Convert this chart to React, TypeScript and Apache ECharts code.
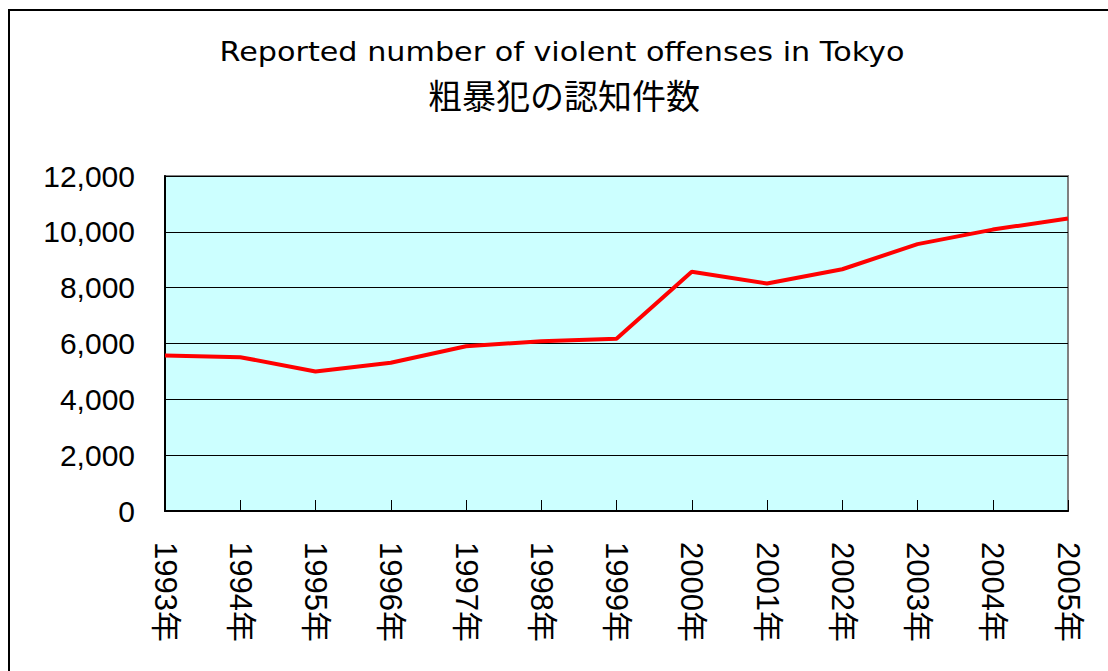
import React, { useEffect, useRef } from "react";
import * as echarts from "echarts";

const years = ["1993年", "1994年", "1995年", "1996年", "1997年", "1998年", "1999年", "2000年", "2001年", "2002年", "2003年", "2004年", "2005年"];
const offenses = [5570, 5510, 5000, 5310, 5900, 6080, 6170, 8570, 8150, 8660, 9560, 10080, 10480];
const titleEn = "Reported number of violent offenses in Tokyo";
const titleJa = "粗暴犯の認知件数";

const FONT = "'Liberation Sans', 'Noto Sans CJK JP', sans-serif";

export default function App() {
  const ref = useRef<HTMLDivElement>(null);
  useEffect(() => {
    if (!ref.current) return;
    const chart = echarts.init(ref.current, null, { renderer: "svg" });
    chart.setOption({
      animation: false,
      backgroundColor: "#ffffff",
      grid: {
        left: 165,
        top: 176,
        width: 903,
        height: 335,
        show: true,
        backgroundColor: "#ccffff",
        borderColor: "#808080",
        borderWidth: 2,
      },
      graphic: [
        {
          type: "rect",
          shape: { x: 9, y: 10, width: 1200, height: 800 },
          style: { fill: "none", stroke: "#000000", lineWidth: 2 },
          silent: true,
        },
        {
          type: "text",
          x: 562,
          y: 52,
          scaleX: 1.12,
          style: {
            text: titleEn,
            fill: "#000",
            font: "27px 'DejaVu Sans', sans-serif",
            textAlign: "center",
            textVerticalAlign: "middle",
          },
        },
        {
          type: "text",
          x: 564,
          y: 94,
          style: {
            text: titleJa,
            fill: "#000",
            font: "34px 'Noto Sans CJK JP', sans-serif",
            textAlign: "center",
            textVerticalAlign: "middle",
          },
        },
      ],
      xAxis: {
        type: "category",
        data: years,
        boundaryGap: false,
        axisLine: { show: true, lineStyle: { color: "#000", width: 2 } },
        axisTick: { show: true, inside: true, length: 11, alignWithLabel: true, lineStyle: { color: "#000" } },
        axisLabel: {
          rotate: -90,
          margin: 31,
          color: "#000",
          fontSize: 31,
          fontFamily: FONT,
          interval: 0,
        },
        splitLine: { show: false },
      },
      yAxis: {
        type: "value",
        min: 0,
        max: 12000,
        interval: 2000,
        axisLine: { show: true, lineStyle: { color: "#000", width: 2 } },
        axisTick: { show: true, inside: true, length: 10, lineStyle: { color: "#000" } },
        axisLabel: {
          color: "#000",
          fontSize: 30,
          fontFamily: FONT,
          margin: 30,
          formatter: (v: number) => v.toLocaleString("en-US"),
        },
        splitLine: { show: true, lineStyle: { color: "#000", width: 1 } },
      },
      series: [
        {
          type: "line",
          data: offenses,
          symbol: "none",
          lineStyle: { color: "#ff0000", width: 4 },
        },
      ],
    });
    return () => chart.dispose();
  }, []);
  return (
    <div
      ref={ref}
      style={{ position: "fixed", left: 0, top: 0, width: 1108, height: 671 }}
    />
  );
}
